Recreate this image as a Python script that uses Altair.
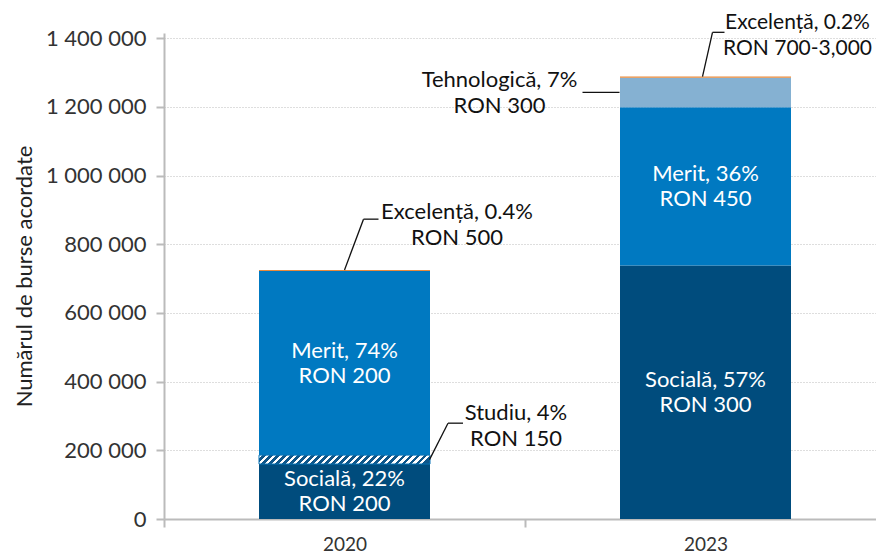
import altair as alt
import pandas as pd

# ---------------- data ----------------
years = ["2020", "2023"]
categories = ["Socială", "Studiu", "Merit", "Tehnologică", "Excelență"]
counts_2020 = [160000, 26000, 536000, 0, 3000]
counts_2023 = [738000, 0, 461000, 86000, 3000]
shares_2020 = ["22%", "4%", "74%", "", "0.4%"]
shares_2023 = ["57%", "", "36%", "7%", "0.2%"]
amounts_2020 = ["RON 200", "RON 150", "RON 200", "", "RON 500"]
amounts_2023 = ["RON 300", "", "RON 450", "RON 300", "RON 700-3,000"]
inside_labels = ["Socială", "Merit"]
y_ticks = [0, 200000, 400000, 600000, 800000, 1000000, 1200000, 1400000]

colors = ["#004C7D", "#0E568A", "#0079C1", "#85B1D2", "#E98A3B"]

# ---------------- table ----------------
rows = []
for yr, counts, shares, amounts in [
    (years[0], counts_2020, shares_2020, amounts_2020),
    (years[1], counts_2023, shares_2023, amounts_2023),
]:
    base = 0
    for i, (cat, v) in enumerate(zip(categories, counts)):
        if v <= 0:
            continue
        rows.append(dict(year=yr, cat=cat, order=i, y0=base, y1=base + v,
                         mid=base + v / 2,
                         label=f"{cat}, {shares[i]}\n{amounts[i]}"))
        base += v
df = pd.DataFrame(rows)

# ---------------- layout ----------------
Y_MAX = 1415000
PLOT_H = 486
PLOT_W = 712
X_RANGE = 722
STEP = X_RANGE / 2
BAR_BAND = 171 / STEP
FONT = "Lato"


def center(yr):
    return STEP * (years.index(yr) + 0.5)


y_scale = alt.Scale(domain=[0, Y_MAX], nice=False, zero=True)
x_scale = alt.Scale(range=[0, X_RANGE], paddingInner=0, paddingOuter=0)

bars = alt.Chart(df).mark_bar(width={"band": BAR_BAND}).encode(
    x=alt.X("year:N", scale=x_scale, title=None,
            axis=alt.Axis(labelAngle=0, tickBand="extent", grid=False,
                          labelFontSize=19, labelPadding=8)),
    y=alt.Y("y1:Q", scale=y_scale, title="Numărul de burse acordate",
            axis=alt.Axis(values=y_ticks, grid=True,
                          labelExpr="replace(format(datum.value, ','), /,/g, ' ')")),
    y2="y0:Q",
    color=alt.Color("cat:N", scale=alt.Scale(domain=categories, range=colors), legend=None),
)

# hatched "Studiu" segment
studiu = df[df.cat == "Studiu"].iloc[0]
h_px = (studiu.y1 - studiu.y0) / Y_MAX * PLOT_H
w_px = 171
n_periods = w_px / 7.0
stops = []
k = 0
while k / n_periods < 1:
    a = k / n_periods
    b = min((k + 0.5) / n_periods, 1)
    c = min((k + 1) / n_periods, 1)
    stops += [{"offset": a, "color": "#ffffff"}, {"offset": b, "color": "#ffffff"},
              {"offset": b, "color": "#0E568A"}, {"offset": c, "color": "#0E568A"}]
    k += 1
hatch_fill = {"gradient": "linear", "x1": 0, "y1": 0, "x2": 1, "y2": h_px / w_px, "stops": stops}

hatch = alt.Chart(df[df.cat == "Studiu"]).mark_bar(
    width={"band": BAR_BAND}, fill=hatch_fill, stroke="#0873B5", strokeWidth=1
).encode(x=alt.X("year:N"), y="y1:Q", y2="y0:Q")

inner = alt.Chart(df[df.cat.isin(inside_labels)]).mark_text(
    color="white", font=FONT, fontSize=22, lineBreak="\n", lineHeight=25,
    align="center", baseline="middle", dy=-12.5
).encode(x=alt.X("year:N"), y="mid:Q", text="label:N")


def seg(yr, cat):
    return df[(df.year == yr) & (df.cat == cat)].iloc[0]


# callouts: (year, category, leader points [(dx, yvalue)], text (dx, yvalue), font size)
callouts = [
    ("2020", "Excelență", [(0, seg("2020", "Excelență").y1), (19, 873000), (34, 873000)], (112.5, 856000), 22),
    ("2020", "Studiu", [(85, seg("2020", "Studiu").mid), (103.5, 279000), (118.5, 279000)], (171.5, 272000), 22),
    ("2023", "Tehnologică", [(-86, seg("2023", "Tehnologică").mid), (-123, seg("2023", "Tehnologică").mid)], (-206, 1240000), 22),
    ("2023", "Excelență", [(-3, seg("2023", "Excelență").y1), (7, 1417000), (19, 1417000)], (92, 1407000), 21),
]

dummy = pd.DataFrame({"a": [0]})
annots = []
for yr, cat, pts, (tdx, ty), fs in callouts:
    c = center(yr)
    for (dx1, yv1), (dx2, yv2) in zip(pts[:-1], pts[1:]):
        annots.append(
            alt.Chart(dummy).mark_rule(color="#111111", strokeWidth=1.3).encode(
                x=alt.value(c + dx1), x2=alt.value(c + dx2),
                y=alt.Y(datum=float(yv1), type="quantitative"),
                y2=alt.Y2(datum=float(yv2)),
            )
        )
    annots.append(
        alt.Chart(pd.DataFrame({"t": [seg(yr, cat).label]})).mark_text(
            color="#111111", font=FONT, fontSize=fs, lineBreak="\n", lineHeight=26,
            align="center", baseline="middle", dy=-13
        ).encode(x=alt.value(c + tdx), y=alt.Y(datum=float(ty), type="quantitative"), text="t:N")
    )

chart = alt.layer(bars, hatch, inner, *annots).properties(
    width=PLOT_W, height=PLOT_H,
    autosize=alt.AutoSizeParams(type="none"),
    padding={"left": 156, "top": 25, "right": 0, "bottom": 34},
    background="white",
).configure_view(stroke=None).configure_axis(
    labelFont=FONT, titleFont=FONT, labelFontSize=22, titleFontSize=22,
    labelColor="#333333", titleColor="#222222", titleFontWeight="normal",
    domainColor="#bbbbbb", domainWidth=2, tickColor="#bbbbbb", tickWidth=2, tickSize=8,
    gridColor="#bdbdbd", gridDash=[1, 2], gridWidth=1, labelPadding=10, titlePadding=9,
)

chart.save("out.html", embed_options={"renderer": "svg", "actions": False})
